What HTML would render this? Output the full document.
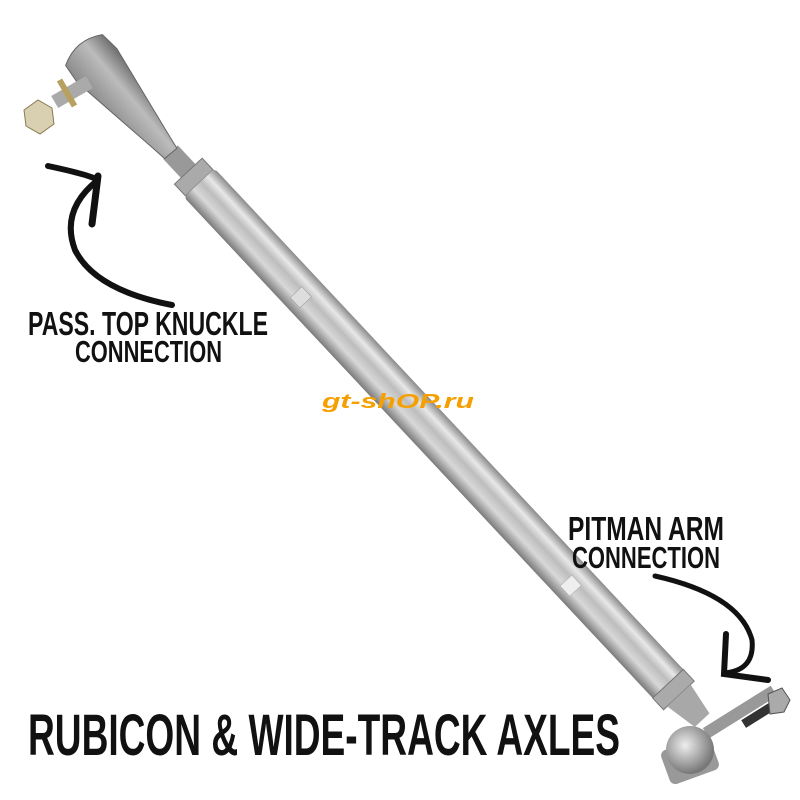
<!DOCTYPE html>
<html><head><style>
body{margin:0;background:#fff;}
svg{display:block}
.t{font-family:"Liberation Sans",sans-serif;font-weight:bold;fill:#111;}
</style></head><body>
<svg width="800" height="800" viewBox="0 0 800 800">
<defs>
<linearGradient id="tg" x1="0" y1="0" x2="0" y2="1">
<stop offset="0" stop-color="#8a8a8a"/><stop offset="0.25" stop-color="#e8e8e8"/><stop offset="0.45" stop-color="#bdbdbd"/><stop offset="0.7" stop-color="#d8d8d8"/><stop offset="1" stop-color="#7a7a7a"/>
</linearGradient>
<linearGradient id="eg" x1="0" y1="0" x2="0" y2="1">
<stop offset="0" stop-color="#6e6e6e"/><stop offset="0.4" stop-color="#bcbcbc"/><stop offset="1" stop-color="#8a8a8a"/>
</linearGradient>
<radialGradient id="ball" cx="0.4" cy="0.4" r="0.6"><stop offset="0" stop-color="#eee"/><stop offset="1" stop-color="#777"/></radialGradient>
</defs>
<!-- tube -->
<g transform="translate(176,158) rotate(46.9)">
<rect x="-8" y="-10" width="40" height="20" fill="#999"/>
<rect x="18" y="-19" width="16" height="38" fill="#aaa" stroke="#777"/>
<rect x="34" y="-21" width="700" height="42" rx="4" fill="url(#tg)"/>
<rect x="180" y="-4" width="14" height="16" fill="#ddd" stroke="#999" stroke-width="0.5"/>
<rect x="575" y="-4" width="14" height="16" fill="#eee" stroke="#aaa" stroke-width="0.5"/>
<rect x="720" y="-21" width="16" height="42" fill="#aaa" stroke="#777"/>
<path d="M736,-16 L770,-10 L770,10 L736,16Z" fill="#a8a8a8"/>
</g>
<!-- top end -->
<g transform="translate(84,50) rotate(50)">
<path d="M0,-24 L20,-26 L115,-11 L135,-8 L135,8 L115,11 L20,26 L0,24 Q-14,0 0,-24Z" fill="url(#eg)" stroke="#666"/>
</g>
<rect x="52" y="85" width="40" height="14" fill="#aaa" transform="rotate(-30 72 92)"/>
<rect x="64" y="78" width="6" height="30" fill="#b8a060" transform="rotate(-30 67 93)"/>
<polygon points="24,110 38,100 52,108 54,124 40,134 26,126" fill="#d8d0b0" stroke="#8a7a50"/>
<!-- bottom end -->
<rect x="700" y="706" width="80" height="12" fill="#999" transform="rotate(-32 740 712)"/>
<rect x="740" y="708" width="45" height="9" fill="#333" transform="rotate(-32 762 712)"/>
<polygon points="768,694 782,688 790,700 784,712 770,714" fill="#aaa" stroke="#555"/>
<rect x="664" y="742" width="52" height="36" rx="6" fill="#999" transform="rotate(-20 690 760)"/>
<circle cx="690" cy="750" r="24" fill="url(#ball)"/>
<!-- arrows -->
<path d="M48,166 Q90,175 98,180 M98,180 Q60,210 75,250 Q95,290 172,305" stroke="#111" stroke-width="6" fill="none" stroke-linecap="round"/>
<path d="M98,176 L92,224" stroke="#111" stroke-width="7" stroke-linecap="round"/>
<path d="M655,576 Q740,595 752,640 Q755,670 725,673" stroke="#111" stroke-width="5" fill="none" stroke-linecap="round"/>
<path d="M726,634 L724,674 L768,680" stroke="#111" stroke-width="6" fill="none" stroke-linecap="round"/>
<!-- text -->
<text class="t" x="28" y="335" font-size="33" textLength="240" lengthAdjust="spacingAndGlyphs">PASS. TOP KNUCKLE</text>
<text class="t" x="75" y="362" font-size="31" textLength="147" lengthAdjust="spacingAndGlyphs">CONNECTION</text>
<text class="t" x="568" y="540" font-size="33" textLength="156" lengthAdjust="spacingAndGlyphs">PITMAN ARM</text>
<text class="t" x="572" y="568" font-size="31" textLength="148" lengthAdjust="spacingAndGlyphs">CONNECTION</text>
<text class="t" x="28" y="755" font-size="58" textLength="592" lengthAdjust="spacingAndGlyphs">RUBICON &amp; WIDE-TRACK AXLES</text>
<text x="322" y="408" font-family="Liberation Sans,sans-serif" font-weight="bold" font-style="italic" font-size="20" fill="#f5a000" textLength="152" lengthAdjust="spacingAndGlyphs">gt-shOP.ru</text>
</svg>
</body></html>
